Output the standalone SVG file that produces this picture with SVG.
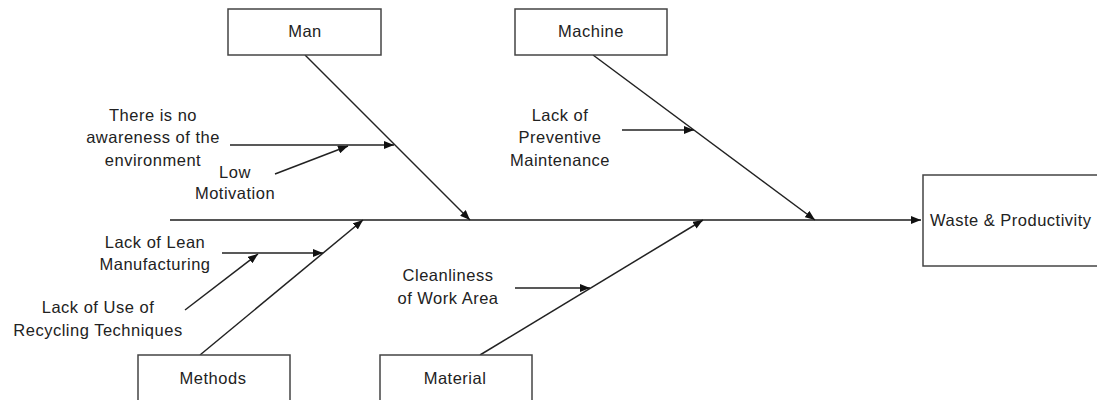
<svg xmlns="http://www.w3.org/2000/svg" width="1097" height="400" viewBox="0 0 1097 400">
<style>
.box{fill:#fff;stroke:#444;stroke-width:1.5}
.t{font-family:"Liberation Sans",Arial,sans-serif;font-size:16.5px;letter-spacing:0.5px;fill:#222;text-anchor:middle}
.ln{stroke:#222;stroke-width:1.5;fill:none}
.sp{stroke:#555;stroke-width:2.2;fill:none}
</style>
<defs>
<marker id="ah" viewBox="0 0 10 8" refX="10" refY="4" markerWidth="10" markerHeight="8" markerUnits="userSpaceOnUse" orient="auto">
<path d="M0,0 L10,4 L0,8 z" fill="#111"/>
</marker>
</defs>
<rect width="1097" height="400" fill="#fff"/>
<g id="connectors">
<path class="sp" d="M170,220 L921,220" marker-end="url(#ah)"/>
<path class="ln" d="M305,55 L470,220" marker-end="url(#ah)"/>
<path class="ln" d="M593,55 L815,220" marker-end="url(#ah)"/>
<path class="ln" d="M200,355 L363,220" marker-end="url(#ah)"/>
<path class="ln" d="M480,355 L703,220" marker-end="url(#ah)"/>
<path class="ln" d="M230,145 L394,145" marker-end="url(#ah)"/>
<path class="ln" d="M275,174 L348,146" marker-end="url(#ah)"/>
<path class="ln" d="M622,130 L694,130" marker-end="url(#ah)"/>
<path class="ln" d="M222,253 L323,253" marker-end="url(#ah)"/>
<path class="ln" d="M185,310 L258,254" marker-end="url(#ah)"/>
<path class="ln" d="M515,288 L590,288" marker-end="url(#ah)"/>
</g>
<g id="man"><rect class="box" x="228" y="9" width="153" height="46"/><text class="t" x="305" y="37">Man</text></g>
<g id="machine"><rect class="box" x="515" y="9" width="152" height="46"/><text class="t" x="591" y="37">Machine</text></g>
<g id="methods"><rect class="box" x="138" y="355" width="152" height="46"/><text class="t" x="213" y="384">Methods</text></g>
<g id="material"><rect class="box" x="380" y="355" width="152" height="46"/><text class="t" x="455" y="384">Material</text></g>
<g id="waste"><rect class="box" x="923" y="175" width="200" height="91"/><text class="t" x="930" y="226" style="text-anchor:start">Waste &amp; Productivity</text></g>
<g id="cause-awareness"><text class="t" x="153" y="121">There is no</text><text class="t" x="153" y="143">awareness of the</text><text class="t" x="153" y="166">environment</text></g>
<g id="cause-motivation"><text class="t" x="235" y="178">Low</text><text class="t" x="235" y="199">Motivation</text></g>
<g id="cause-maintenance"><text class="t" x="560" y="121">Lack of</text><text class="t" x="560" y="143">Preventive</text><text class="t" x="560" y="166">Maintenance</text></g>
<g id="cause-lean"><text class="t" x="155" y="248">Lack of Lean</text><text class="t" x="155" y="270">Manufacturing</text></g>
<g id="cause-recycling"><text class="t" x="98" y="313">Lack of Use of</text><text class="t" x="98" y="336">Recycling Techniques</text></g>
<g id="cause-cleanliness"><text class="t" x="448" y="281">Cleanliness</text><text class="t" x="448" y="304">of Work Area</text></g>
</svg>
